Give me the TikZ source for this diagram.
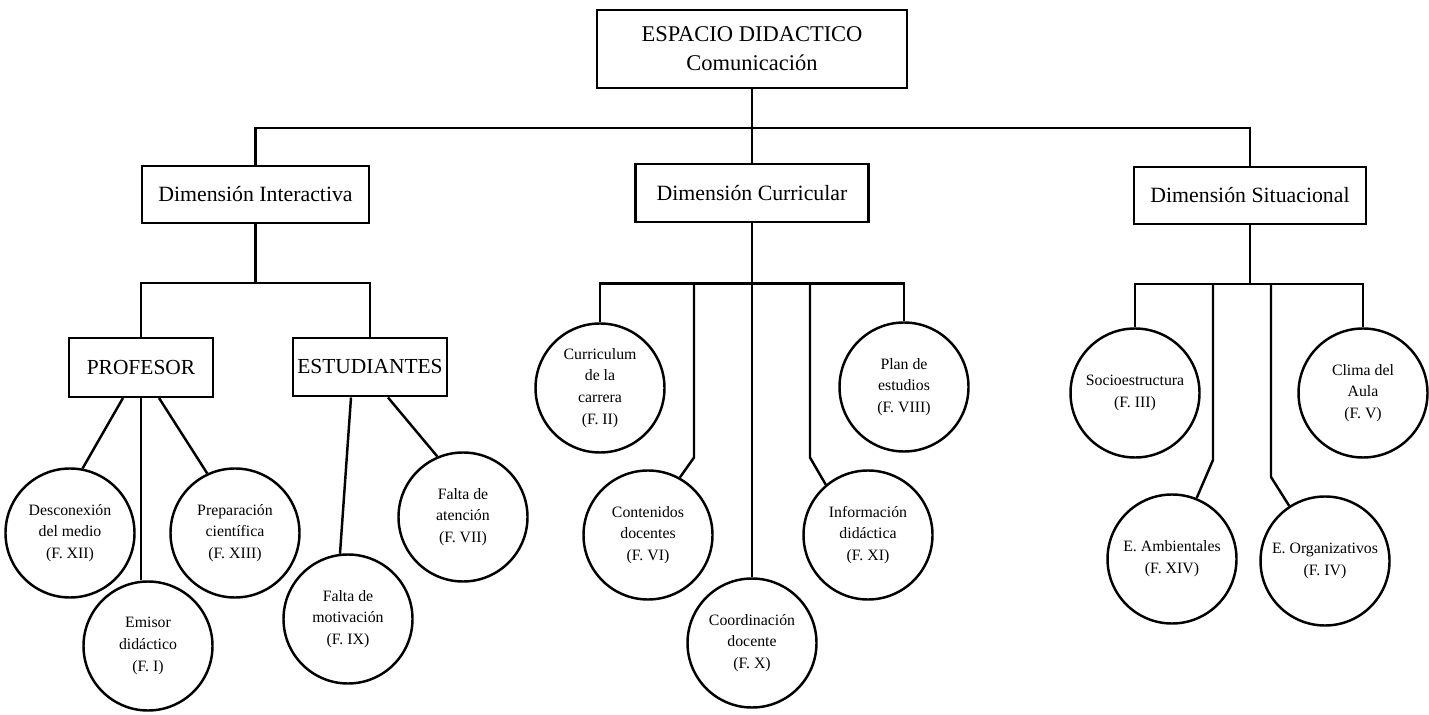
\documentclass[tikz,border=0pt]{standalone}
\usepackage{fontspec}
\setmainfont{Liberation Serif}
\usepackage{tikz}
\usetikzlibrary{positioning, calc}

\begin{document}
\begin{tikzpicture}[
      line width=1.4pt,
      rootbox/.style={rectangle, draw, minimum width=6.2cm, minimum height=1.56cm,
                      font=\fontsize{12.8}{16.5}\selectfont, align=center},
      dimbox/.style={rectangle, draw, minimum width=4.6cm, minimum height=1.15cm,
                     font=\fontsize{12.4}{14}\selectfont, align=center},
      actor/.style={rectangle, draw, minimum height=1.17cm, inner sep=1pt,
                    font=\fontsize{12.2}{15}\selectfont, align=center},
      factor/.style={circle, draw, minimum size=2.58cm, inner sep=0pt,
                     font=\fontsize{9}{12.3}\selectfont, align=center}
    ]
    \useasboundingbox (0,0) rectangle (28.58,-14.3);

    % Root
    \node[rootbox] (top) at (15.04,-0.98) {ESPACIO DIDACTICO\\Comunicación};

    % Three dimensions
    \node[dimbox, minimum width=4.54cm] (dimint) at (5.11,-3.89) {Dimensión Interactiva};
    \node[dimbox, minimum width=4.66cm] (dimcur) at (15.04,-3.86) {Dimensión Curricular};
    \node[dimbox, minimum width=4.64cm] (dimsit) at (25.0,-3.91) {Dimensión Situacional};

    % Interactive: actors
    \node[actor, minimum width=2.88cm] (prof) at (2.82,-7.35) {PROFESOR};
    \node[actor, minimum width=3.08cm] (est) at (7.40,-7.34) {ESTUDIANTES};

    % Interactive factors
    \node[factor] (desc) at (1.40,-10.66) {Desconexión\\del medio\\(F. XII)};
    \node[factor] (emi) at (2.96,-12.92) {Emisor\\didáctico\\(F. I)};
    \node[factor] (prep) at (4.70,-10.66) {Preparación\\científica\\(F. XIII)};
    \node[factor] (motiv) at (6.96,-12.38) {Falta de\\motivación\\(F. IX)};
    \node[factor] (aten) at (9.26,-10.34) {Falta de\\atención\\(F. VII)};

    % Curricular factors
    \node[factor] (curr) at (12.0,-7.76) {Curriculum\\de la\\carrera\\(F. II)};
    \node[factor] (cont) at (12.96,-10.70) {Contenidos\\docentes\\(F. VI)};
    \node[factor] (coord) at (15.04,-12.86) {Coordinación\\docente\\(F. X)};
    \node[factor] (info) at (17.36,-10.70) {Información\\didáctica\\(F. XI)};
    \node[factor] (plan) at (18.08,-7.74) {Plan de\\estudios\\(F. VIII)};

    % Situational factors
    \node[factor] (socio) at (22.70,-7.86) {Socioestructura\\(F. III)};
    \node[factor] (amb) at (23.44,-11.18) {E. Ambientales\\(F. XIV)};
    \node[factor] (org) at (26.50,-11.22) {E. Organizativos\\(F. IV)};
    \node[factor] (clima) at (27.26,-7.86) {Clima del\\Aula\\(F. V)};

    % Bars
    \coordinate (bt) at (top.south |- 0,-2.56);
    \coordinate (bi) at (dimint.south |- 0,-5.66);
    \coordinate (bc) at (dimcur.south |- 0,-5.67);
    \coordinate (bc2) at (13.88,-5.67);
    \coordinate (bc4) at (16.20,-5.67);
    \coordinate (bs) at (dimsit.south |- 0,-5.68);
    \coordinate (bs2) at (24.26,-5.68);
    \coordinate (bs3) at (25.42,-5.68);

    % Root to dimensions
    \draw (top.south) -- (dimcur.north);
    \draw (dimint.north) |- (bt) -| (dimsit.north);

    % Interactive
    \draw (dimint.south) -- (bi);
    \draw (prof.north) |- (bi) -| (est.north);
    \draw ([xshift=-0.36cm]prof.south) -- (desc.79);
    \draw (prof.south) -- (prof.south |- emi.north);
    \draw ([xshift=0.36cm]prof.south) -- (prep.115);
    \draw ([xshift=-0.38cm]est.south) -- (motiv.97);
    \draw ([xshift=0.36cm]est.south) -- (aten.113);

    % Curricular
    \draw (dimcur.south) -- (coord.north);
    \draw (curr.north) |- (bc) -| (plan.north);
    \draw (bc2) -- ++(0,-3.48) -- (cont.61);
    \draw (bc4) -- ++(0,-3.48) -- (info.130);

    % Situational
    \draw (dimsit.south) -- (bs);
    \draw (socio.north) |- (bs) -| (clima.north);
    \draw (bs2) -- ++(0,-3.52) -- (amb.68);
    \draw (bs3) -- ++(0,-3.86) -- (org.123);
  \end{tikzpicture}
\end{document}
